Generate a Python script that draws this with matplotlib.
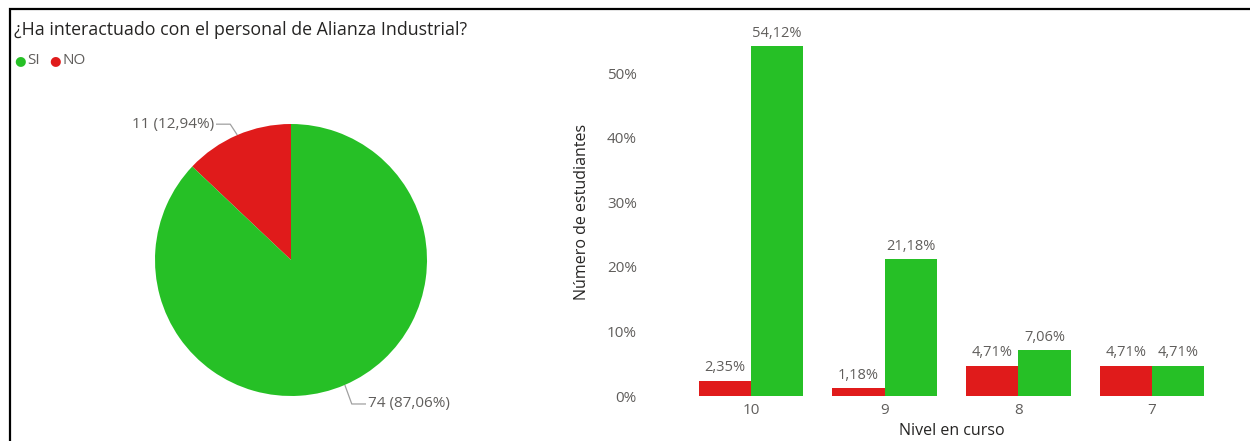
import numpy as np
import matplotlib; matplotlib.use("Agg")
import matplotlib.pyplot as plt
from matplotlib.patches import Rectangle

# pie: interaction with staff
pie_labels = ["NO", "SI"]
pie_counts = [11, 74]
pie_pct = ["12,94%", "87,06%"]

# bars: share of students per course level
niveles = ["10", "9", "8", "7"]
pct_no = [2.35, 1.18, 4.71, 4.71]
pct_si = [54.12, 21.18, 7.06, 4.71]

GREEN = "#26C026"
RED = "#E01B1B"
TXT = "#605E5C"
DARK = "#252423"

W, H = 1250, 441
fig = plt.figure(figsize=(W/100, H/100), dpi=100)
plt.rcParams["font.family"] = ["Open Sans", "DejaVu Sans"]

def px_axes(x0, y0, x1, y1):
    # axes box from pixel corners (y measured from top)
    return fig.add_axes([x0/W, 1-y1/H, (x1-x0)/W, (y1-y0)/H])

# frame
fig.add_artist(Rectangle((9.5/W, -0.1), 1.2, 1.1-8.5/H, transform=fig.transFigure,
                         fill=False, ec="black", lw=1.6))

fig.text(14/W, 1-30/H, "¿Ha interactuado con el personal de Alianza Industrial?",
         fontsize=12.8, color=DARK, va="center", ha="left")
# legend
fig.text(14/W, 1-61/H, "●", color=GREEN, fontsize=9.5, va="center")
fig.text(27/W, 1-61/H, "SI", color=TXT, fontsize=11, va="center")
fig.text(49/W, 1-61/H, "●", color=RED, fontsize=9.5, va="center")
fig.text(62/W, 1-61/H, "NO", color=TXT, fontsize=11, va="center")

# ---- pie
cx, cy, r = 291, 260, 136
k = 1.6
pax = px_axes(cx-r*k, cy-r*k, cx+r*k, cy+r*k)
wedges, _ = pax.pie(pie_counts, colors=[RED, GREEN], startangle=90, counterclock=True,
                    radius=1, wedgeprops=dict(lw=0))
pax.set_xlim(-k, k); pax.set_ylim(-k, k); pax.set_aspect("equal"); pax.axis("off")
for w, n, p in zip(wedges, pie_counts, pie_pct):
    a = np.deg2rad((w.theta1 + w.theta2)/2)
    x0, y0 = np.cos(a), np.sin(a)
    x1, y1 = 1.13*x0, 1.12*y0 - 0.03
    sx = np.sign(x0)
    x2 = x1 + sx*0.1
    pax.plot([x0*1.005, x1, x2], [y0*1.005, y1, y1], color="#A0A0A0", lw=0.9, clip_on=False)
    pax.text(x2 + sx*0.02, y1, f"{n} ({p})", ha="left" if sx > 0 else "right",
             va="center", fontsize=11, color=TXT)

# ---- bars
ax = px_axes(684, 27.8, 1219, 396)
x = np.arange(len(niveles))
bw = 0.39
b1 = ax.bar(x - bw/2, pct_no, bw, color=RED, lw=0)
b2 = ax.bar(x + bw/2, pct_si, bw, color=GREEN, lw=0)
for bars, vals in ((b1, pct_no), (b2, pct_si)):
    for b, v in zip(bars, vals):
        ax.annotate(f"{v:.2f}%".replace(".", ","), (b.get_x()+b.get_width()/2, v),
                    xytext=(0, 4), textcoords="offset points", ha="center", va="bottom",
                    fontsize=10.5, color=TXT)
ax.set_xlim(-0.5, 3.5)
ax.set_ylim(0, 57)
ax.set_yticks(range(0, 51, 10))
ax.set_yticklabels([f"{t}%" for t in range(0, 51, 10)])
ax.set_xticks(x)
ax.set_xticklabels(niveles)
ax.tick_params(axis="y", length=0, pad=34, labelsize=11, labelcolor=TXT)
ax.tick_params(axis="x", length=0, pad=5, labelsize=11, labelcolor=TXT)
for s in ax.spines.values():
    s.set_visible(False)
ax.set_ylabel("Número de estudiantes", fontsize=11.5, color=DARK)
ax.yaxis.set_label_coords(-0.176, 0.5)
ax.set_xlabel("Nivel en curso", fontsize=11.5, color=DARK)
ax.xaxis.set_label_coords(0.5, -0.074)

fig.savefig("out.png", dpi=100)
print("saved")
